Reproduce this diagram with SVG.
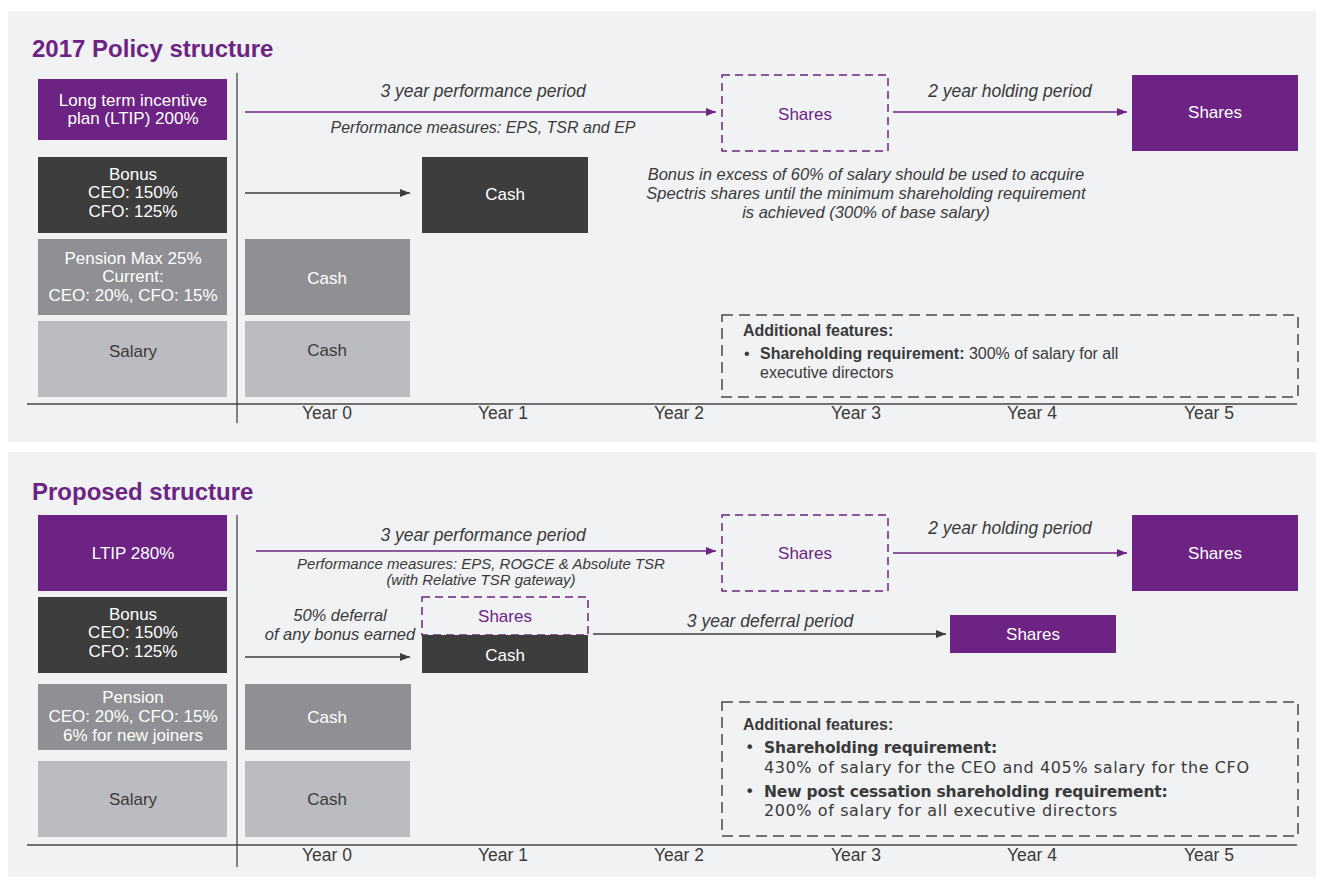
<svg xmlns="http://www.w3.org/2000/svg" width="1322" height="881" viewBox="0 0 1322 881">
<defs>
<marker id="ap" viewBox="0 0 10 8" refX="10" refY="4" markerWidth="10" markerHeight="8" markerUnits="userSpaceOnUse" orient="auto"><path d="M0,0 L10,4 L0,8 Z" fill="#6d2383"/></marker>
<marker id="ag" viewBox="0 0 10 8" refX="10" refY="4" markerWidth="10" markerHeight="8" markerUnits="userSpaceOnUse" orient="auto"><path d="M0,0 L10,4 L0,8 Z" fill="#3d3d3d"/></marker>
</defs>
<style>
text{font-family:"Liberation Sans",Arial,sans-serif;}
.title{font-size:24px;font-weight:bold;fill:#6d2383;}
.lbl{font-size:17px;fill:#ffffff;text-anchor:middle;}
.dk{fill:#3a3a3a;}
.it{font-size:17.5px;font-style:italic;fill:#3a3a3a;text-anchor:middle;}
.it2{font-size:16.5px;font-style:italic;fill:#3a3a3a;text-anchor:middle;}
.yr{font-size:17.5px;fill:#3a3a3a;text-anchor:middle;}
.pur{fill:#6d2383;}
.drk{fill:#3d3d3d;}
.pen{fill:#8f9093;}
.sal{fill:#bbbcbf;}
.dpur{fill:none;stroke:#6d2383;stroke-width:1.5;stroke-dasharray:8 5;}
.dgry{fill:none;stroke:#4a4a4a;stroke-width:1.5;stroke-dasharray:11 6;}
.axis{stroke:#444;stroke-width:1.3;fill:none;}
.cp{stroke:#6d2383;stroke-width:1.5;fill:none;marker-end:url(#ap);}
.cg{stroke:#3d3d3d;stroke-width:1.5;fill:none;marker-end:url(#ag);}
.ft{font-size:16px;fill:#3a3a3a;}
.ft2{font-family:"DejaVu Sans",Verdana,sans-serif;font-size:16px;letter-spacing:0.6px;fill:#3a3a3a;}
.ft2b{font-family:"DejaVu Sans",Verdana,sans-serif;font-size:15.5px;letter-spacing:-0.15px;font-weight:bold;fill:#3a3a3a;}
</style>
<rect x="0" y="0" width="1322" height="881" fill="#ffffff"/>
<rect x="8" y="11" width="1308" height="431" fill="#f1f2f4"/>
<rect x="8" y="452" width="1308" height="425" fill="#f1f2f4"/>

<!-- Panel 1 -->
<text class="title" x="32" y="57">2017 Policy structure</text>
<g id="axes1">
<line class="axis" x1="237" y1="73" x2="237" y2="423"/>
<line class="axis" x1="27" y1="404" x2="1297" y2="404"/>
<text class="yr" x="327" y="419">Year 0</text>
<text class="yr" x="503" y="419">Year 1</text>
<text class="yr" x="679" y="419">Year 2</text>
<text class="yr" x="856" y="419">Year 3</text>
<text class="yr" x="1032" y="419">Year 4</text>
<text class="yr" x="1209" y="419">Year 5</text>
</g>
<g id="p1-ltip"><rect class="pur" x="38" y="79" width="189" height="61"/><text class="lbl" x="133" y="106">Long term incentive</text><text class="lbl" x="133" y="124">plan (LTIP) 200%</text></g>
<g id="p1-bonus"><rect class="drk" x="38" y="157" width="189" height="76"/><text class="lbl" x="133" y="180">Bonus</text><text class="lbl" x="133" y="198">CEO: 150%</text><text class="lbl" x="133" y="217">CFO: 125%</text></g>
<g id="p1-pension"><rect class="pen" x="38" y="239" width="189" height="76"/><text class="lbl" x="133" y="264">Pension Max 25%</text><text class="lbl" x="133" y="282">Current:</text><text class="lbl" x="133" y="301">CEO: 20%, CFO: 15%</text></g>
<g id="p1-salary"><rect class="sal" x="38" y="321" width="189" height="76"/><text class="lbl dk" x="133" y="357">Salary</text></g>
<g id="p1-pension-cash"><rect class="pen" x="245" y="239" width="165" height="76"/><text class="lbl" x="327" y="284">Cash</text></g>
<g id="p1-salary-cash"><rect class="sal" x="245" y="321" width="165" height="76"/><text class="lbl dk" x="327" y="356">Cash</text></g>
<g id="p1-bonus-cash"><rect class="drk" x="422" y="157" width="166" height="76"/><text class="lbl" x="505" y="200">Cash</text></g>
<g id="p1-shares-dashed"><rect class="dpur" x="722" y="75" width="166" height="76"/><text class="lbl" style="fill:#6d2383" x="805" y="120">Shares</text></g>
<g id="p1-shares"><rect class="pur" x="1132" y="75" width="166" height="76"/><text class="lbl" x="1215" y="118">Shares</text></g>
<g id="p1-note"><text class="it2" x="866" y="180">Bonus in excess of 60% of salary should be used to acquire</text><text class="it2" x="866" y="199">Spectris shares until the minimum shareholding requirement</text><text class="it2" x="866" y="218">is achieved (300% of base salary)</text></g>
<g id="p1-features"><rect class="dgry" x="722" y="315" width="576" height="82"/>
<text class="ft" x="743" y="336" font-weight="bold">Additional features:</text>
<text class="ft" x="744" y="359">•</text>
<text class="ft" x="760" y="359"><tspan font-weight="bold">Shareholding requirement:</tspan> 300% of salary for all</text>
<text class="ft" x="760" y="378">executive directors</text></g>

<!-- Panel 2 -->
<text class="title" x="32" y="500">Proposed structure</text>
<g id="axes2">
<line class="axis" x1="237" y1="515" x2="237" y2="867"/>
<line class="axis" x1="27" y1="845" x2="1297" y2="845"/>
<text class="yr" x="327" y="861">Year 0</text>
<text class="yr" x="503" y="861">Year 1</text>
<text class="yr" x="679" y="861">Year 2</text>
<text class="yr" x="856" y="861">Year 3</text>
<text class="yr" x="1032" y="861">Year 4</text>
<text class="yr" x="1209" y="861">Year 5</text>
</g>
<g id="p2-ltip"><rect class="pur" x="38" y="515" width="189" height="76"/><text class="lbl" x="133" y="559">LTIP 280%</text></g>
<g id="p2-bonus"><rect class="drk" x="38" y="597" width="189" height="76"/><text class="lbl" x="133" y="620">Bonus</text><text class="lbl" x="133" y="638">CEO: 150%</text><text class="lbl" x="133" y="657">CFO: 125%</text></g>
<g id="p2-pension"><rect class="pen" x="38" y="684" width="189" height="66"/><text class="lbl" x="133" y="703">Pension</text><text class="lbl" x="133" y="722">CEO: 20%, CFO: 15%</text><text class="lbl" x="133" y="741">6% for new joiners</text></g>
<g id="p2-salary"><rect class="sal" x="38" y="761" width="189" height="76"/><text class="lbl dk" x="133" y="805">Salary</text></g>
<g id="p2-pension-cash"><rect class="pen" x="245" y="684" width="166" height="66"/><text class="lbl" x="327" y="723">Cash</text></g>
<g id="p2-salary-cash"><rect class="sal" x="245" y="761" width="165" height="76"/><text class="lbl dk" x="327" y="805">Cash</text></g>
<g id="p2-bonus-shares"><rect class="dpur" x="422" y="597" width="166" height="38"/><text class="lbl" style="fill:#6d2383" x="505" y="622">Shares</text></g>
<g id="p2-bonus-cash"><rect class="drk" x="422" y="635" width="166" height="38"/><text class="lbl" x="505" y="661">Cash</text></g>
<g id="p2-shares-dashed"><rect class="dpur" x="722" y="515" width="166" height="76"/><text class="lbl" style="fill:#6d2383" x="805" y="559">Shares</text></g>
<g id="p2-shares"><rect class="pur" x="1132" y="515" width="166" height="76"/><text class="lbl" x="1215" y="559">Shares</text></g>
<g id="p2-deferred-shares"><rect class="pur" x="950" y="615" width="166" height="38"/><text class="lbl" x="1033" y="640">Shares</text></g>
<g id="p2-features"><rect class="dgry" x="722" y="702" width="576" height="134"/>
<text class="ft" x="743" y="730" font-weight="bold">Additional features:</text>
<text class="ft2" x="745" y="753">•</text>
<text class="ft2b" x="764" y="753">Shareholding requirement:</text>
<text class="ft2" x="764" y="773">430% of salary for the CEO and 405% salary for the CFO</text>
<text class="ft2" x="745" y="797">•</text>
<text class="ft2b" x="764" y="797">New post cessation shareholding requirement:</text>
<text class="ft2" x="764" y="816">200% of salary for all executive directors</text></g>

<g id="connectors">
<line class="cp" x1="245" y1="112" x2="716" y2="112"/>
<line class="cp" x1="893" y1="112" x2="1127" y2="112"/>
<line class="cg" x1="245" y1="193" x2="410" y2="193"/>
<line class="cp" x1="256" y1="551" x2="716" y2="551"/>
<line class="cp" x1="893" y1="553" x2="1127" y2="553"/>
<line class="cg" x1="245" y1="657" x2="410" y2="657"/>
<line class="cg" x1="593" y1="634" x2="946" y2="634"/>
</g>
<g id="connector-labels">
<text class="it" x="483" y="97">3 year performance period</text>
<text class="it" x="483" y="133" style="font-size:16px">Performance measures: EPS, TSR and EP</text>
<text class="it" x="1010" y="97">2 year holding period</text>
<text class="it" x="483" y="541">3 year performance period</text>
<text class="it" x="481" y="569" style="font-size:15px">Performance measures: EPS, ROGCE &amp; Absolute TSR</text>
<text class="it" x="481" y="585" style="font-size:15px">(with Relative TSR gateway)</text>
<text class="it" x="1010" y="534">2 year holding period</text>
<text class="it2" x="340" y="621">50% deferral</text>
<text class="it2" x="340" y="640">of any bonus earned</text>
<text class="it" x="770" y="627">3 year deferral period</text>
</g>
</svg>
